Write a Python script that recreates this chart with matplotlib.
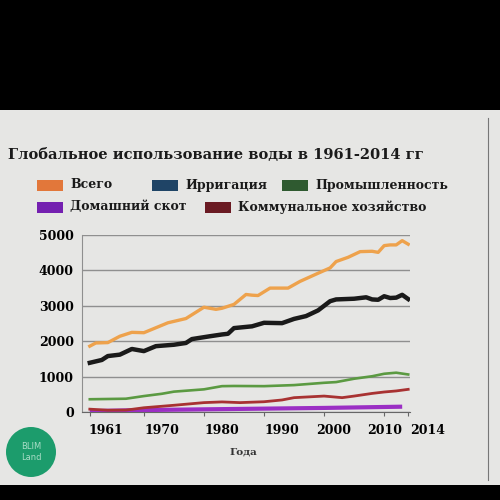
import matplotlib.pyplot as plt
import matplotlib.patches as mpatches
import matplotlib.transforms as mtransforms

# values (млн м3 / год)
total_years = [1961, 1962, 1964, 1966, 1968, 1970, 1972, 1974, 1977, 1980, 1982, 1983, 1985,
               1987, 1988, 1989, 1991, 1994, 1996, 1999, 2001, 2002, 2004, 2006, 2008, 2009,
               2010, 2011, 2012, 2013, 2014]
total = [1860, 1950, 1960, 2140, 2250, 2240, 2380, 2520, 2640, 2960, 2900, 2930, 3040,
         3320, 3300, 3290, 3500, 3500, 3690, 3920, 4070, 4250, 4370, 4530, 4540, 4510,
         4700, 4720, 4720, 4840, 4740]

irr_years = [1961, 1963, 1964, 1966, 1968, 1970, 1972, 1975, 1977, 1978, 1981, 1983, 1984,
             1985, 1988, 1990, 1993, 1995, 1997, 1999, 2001, 2002, 2005, 2007, 2008, 2009,
             2010, 2011, 2012, 2013, 2014]
irrigation = [1390, 1470, 1580, 1620, 1780, 1720, 1860, 1900, 1950, 2060, 2140, 2190, 2210,
              2370, 2420, 2520, 2510, 2630, 2710, 2870, 3130, 3180, 3200, 3240, 3180, 3170,
              3270, 3220, 3230, 3310, 3190]

ind_years = [1961, 1967, 1970, 1973, 1975, 1980, 1983, 1985, 1990, 1995, 2000, 2002, 2005,
             2008, 2010, 2012, 2014]
industry = [360, 375, 450, 515, 575, 640, 730, 735, 730, 760, 825, 845, 940, 1010, 1080,
            1110, 1060]

mun_years = [1961, 1964, 1967, 1968, 1970, 1975, 1980, 1983, 1986, 1990, 1993, 1995, 2000,
             2003, 2005, 2008, 2010, 2012, 2014]
municipal = [80, 50, 55, 75, 120, 190, 265, 285, 265, 290, 340, 405, 450, 405, 450, 525,
             565, 595, 640]

live_years = [1961, 1970, 1980, 1990, 2000, 2013]
livestock = [25, 55, 75, 95, 115, 150]

xticks = [1961, 1970, 1980, 1990, 2000, 2010, 2014]
yticks = [0, 1000, 2000, 3000, 4000, 5000]

serif = ['DejaVu Serif']
bg = '#e6e6e4'

fig = plt.figure(figsize=(5, 5), dpi=100, facecolor='black')
# photographed screen area
fig.patches.append(mpatches.Rectangle((0, 0.03), 1, 0.75, transform=fig.transFigure,
                                      facecolor=bg, edgecolor='none', zorder=-10))
fig.add_artist(plt.Line2D([0.976, 0.976], [0.04, 0.765], transform=fig.transFigure,
                          color='#777777', lw=0.8, zorder=-5))

ax = fig.add_axes([0.164, 0.176, 0.656, 0.354])
ax.set_facecolor(bg)

ax.plot(live_years, livestock, color='#9b2fc4', lw=3, solid_capstyle='butt', zorder=3)
ax.plot(mun_years, municipal, color='#a83232', lw=2, zorder=3)
ax.plot(ind_years, industry, color='#5b9a42', lw=1.9, zorder=3)
ax.plot(irr_years, irrigation, color='#1a1a1a', lw=3.2, zorder=3)
ax.plot(total_years, total, color='#eea24c', lw=2.4, zorder=3)

ax.set_xlim(1959.7, 2014.3)
ax.set_ylim(0, 5000)
ax.set_yticks(yticks)
ax.set_yticklabels([str(v) for v in yticks], fontsize=9, fontweight='bold', family=serif)
ax.set_xticks(xticks)
ax.set_xticklabels([str(v) for v in xticks], fontsize=9, fontweight='bold', family=serif)
ax.grid(axis='y', color='#8f8f8f', lw=1)
ax.set_axisbelow(True)
for s in ['top', 'right']:
    ax.spines[s].set_visible(False)
ax.spines['left'].set_color('#8f8f8f')
ax.spines['bottom'].set_color('#666666')
ax.tick_params(axis='y', length=0, pad=6)
ax.tick_params(axis='x', length=3, color='#666666', pad=6)

# labels sit to the right of their ticks, as in the source
shifts = [16, 18, 18, 18, 10, 0, 19]
for lab, dx in zip(ax.get_xticklabels(), shifts):
    lab.set_transform(lab.get_transform() + mtransforms.ScaledTranslation(dx / 100, 0, fig.dpi_scale_trans))

fig.text(0.486, 0.095, 'Года', ha='center', va='center', fontsize=7.5, fontweight='bold',
         family=serif, color='#333333')

fig.text(0.016, 0.69, 'Глобальное использование воды в 1961-2014 гг', ha='left', va='center',
         fontsize=10.5, fontweight='bold', family=serif, color='#1a1a1a')

# legend
legend_items = [
    ('Всего', '#e2773a', 0.074, 0.630),
    ('Ирригация', '#1f4466', 0.304, 0.630),
    ('Промышленность', '#2f5a30', 0.564, 0.630),
    ('Домашний скот', '#7420b0', 0.074, 0.586),
    ('Коммунальное хозяйство', '#6a1a22', 0.410, 0.586),
]
for name, col, lx, ly in legend_items:
    fig.patches.append(mpatches.Rectangle((lx, ly - 0.011), 0.052, 0.022, transform=fig.transFigure,
                                          facecolor=col, edgecolor='none'))
    fig.text(lx + 0.066, ly, name, ha='left', va='center', fontsize=9, fontweight='bold',
             family=serif, color='#1a1a1a')

# watermark
fig.patches.append(mpatches.Circle((0.062, 0.096), 0.05, transform=fig.transFigure,
                                   facecolor='#1c9c6c', edgecolor='none'))
fig.text(0.062, 0.096, 'BLIM\nLand', ha='center', va='center', fontsize=6,
         color='#a8dcc6', linespacing=1.2)

fig.savefig('out.png', dpi=100, facecolor='black')
